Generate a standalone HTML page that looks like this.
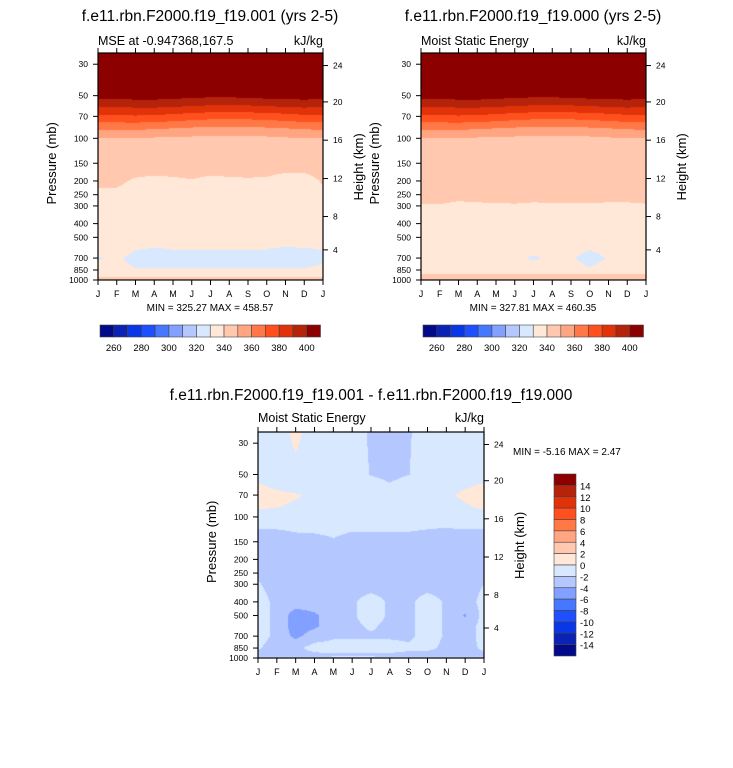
<!DOCTYPE html>
<html><head><meta charset="utf-8">
<style>
body{margin:0;background:#fff;width:733px;height:768px;overflow:hidden;font-family:"Liberation Sans",sans-serif;}
#root{position:relative;width:733px;height:768px;}
canvas{position:absolute;}
svg{position:absolute;left:0;top:0;}
</style></head><body>
<div id="root">
<canvas id="cA"></canvas>
<canvas id="cB"></canvas>
<canvas id="cC"></canvas>
<svg id="ov" width="733" height="768"></svg>
</div>
<script>
const months=["J","F","M","A","M","J","J","A","S","O","N","D","J"];
const pLevels=[25,50,60,70,85,100,150,200,300,400,500,600,700,850,950,1000];
const pTicks=[30,50,70,100,150,200,250,300,400,500,700,850,1000];
const hTicks=["24","20","16","12","8","4"];
const hOffsets=[213.5,177.3,139.2,101,63.2,30];
const levelsAbs=[260,270,280,290,300,310,320,330,340,350,360,370,380,390,400];
const levelsDiff=[-14,-12,-10,-8,-6,-4,-2,0,2,4,6,8,10,12,14];
const barLabelsAbs=["260","280","300","320","340","360","380","400"];
const palette=["#020a8a","#0a23b4","#0a37e6","#1e50ff","#4678ff","#82a0ff","#b4c8ff","#d7e8ff","#ffe8d7","#ffc8af","#ffa582","#ff7846","#ff501e","#e1320a","#b4230a","#8c0000"];
const fieldA=[
[470,470,470,470,470,470,470,470,470,470,470,470,470],
[404,404,405,405,404,403,402,402,403,404,404,405,404],
[390,390,391,391,390,389,388,388,388,389,390,391,390],
[378,378,379,378,377,375,374,374,374,375,376,378,378],
[362,362,362,361,360,359,358,358,358,359,360,361,362],
[350,350,350,349,349,348,347,347,347,348,349,350,350],
[345,345,345,345,345,345,345,345,345,345,345,345,345],
[341.6,341.5,338.9,337.8,338.5,339.5,337.8,338.5,338.9,338.5,335.8,335.8,341],
[336,336,336,336,336,336,336,336,336,336,336,336,336],
[335,335,335,335,335,335,335,335,335,335,335,335,335],
[334,334,334,334,334,334,334,334,334,334,334,334,334],
[333,333,330.3,329.8,330.2,330.2,330.2,330.2,330.3,330.2,329.3,329.8,330.3],
[329.5,330.8,328.5,328.5,328.5,328.5,328.5,328.5,328.5,328.5,328,328.5,329],
[333,331.5,330.3,330.3,330.3,330.3,330.3,330.3,330.3,330.3,330.5,330.3,331],
[339.8,339.8,339.8,339.8,339.8,339.8,339.8,339.8,339.8,339.8,339.8,339.8,339.8],
[342,342,342,342,342,342,342,342,342,342,342,342,342]];
const fieldB=[
[470,470,470,470,470,470,470,470,470,470,470,470,470],
[404,404,405,405,404,403,402,402,403,404,404,405,404],
[390,390,391,391,390,389,388,388,388,389,390,391,390],
[378,378,379,378,377,375,374,374,374,375,376,378,378],
[362,362,362,361,360,359,358,358,358,359,360,361,362],
[350,350,350,349,349,348,347,347,347,348,349,350,350],
[345,345,345,345,345,345,345,345,345,345,345,345,345],
[343,343,343,343,343,343,343,343,343,343,343,343,343],
[339.7,339.8,339.3,339.5,339.6,339.7,339.5,339.6,339.6,339.6,339.5,339.5,339.7],
[336,336,336,336,336,336,336,336,336,336,336,336,336],
[334,334,334,334,334,334,334,334,334,334,334,334,334],
[332,332,332,332,332,332,331.5,332,331.5,330.3,331.5,332,332],
[331,331,331,331,331,331,329.4,331,330.4,328.5,330.3,331,331],
[332,332,332,332,332,332,332,332,331.5,330.5,331.5,332,332],
[345,345,345,345,345,345,345,345,345,345,345,345,345],
[346,346,346,346,346,346,346,346,346,346,346,346,346]];
const fieldC=[
[-1,-1,0.5,-1,-1,-1,-2.3,-3,-2.2,-1,-1,-1,-1],
[-1,-1,-0.5,-1,-1,-1,-2.1,-2.6,-2.05,-1,-1,-1,-1],
[0.3,-0.5,-1,-1,-1,-1,-1,-1.8,-1,-1,-1,-0.3,0.3],
[1,0.6,0.2,-0.3,-1,-1,-1,-1,-1,-1,-0.4,0.5,1],
[0.5,0.1,-0.3,-1,-1,-1,-1,-1,-1,-1,-1,-0.3,0.5],
[-1.5,-1.5,-1.5,-1.6,-1.7,-1.7,-1.7,-1.7,-1.7,-1.7,-1.6,-1.5,-1.5],
[-2.5,-2.5,-2.3,-2.2,-2.05,-2.2,-2.2,-2.2,-2.2,-2.3,-2.5,-2.5,-2.5],
[-3,-3,-3,-3,-3,-3,-3,-3,-3,-3,-3,-3,-3],
[-1.8,-3,-3,-3,-3,-3,-3,-3,-3,-3,-3,-3,-2],
[-1,-2.6,-3,-3,-3,-2.3,-1,-2.3,-2.5,-1,-2.3,-3,-1.3],
[-1,-2.6,-5,-4.3,-3,-2.3,-1,-2.3,-2.5,-1,-2.3,-4.2,-1.3],
[-1,-2.6,-5,-4.3,-3,-2.5,-1.7,-2.6,-2.5,-1,-2.3,-3,-1.2],
[-1,-2.6,-4.5,-3,-2.3,-2.3,-2.3,-2.3,-2.4,-1.2,-2.2,-3,-1.2],
[-1.8,-3,-2.5,-1.2,-1.2,-1.2,-1.2,-1.2,-1.6,-1.5,-2.5,-3,-1.5],
[-2.5,-3,-3,-2.5,-2.2,-2.2,-2.2,-2.3,-2.5,-2.7,-3,-3,-2.5],
[-1.8,-1.8,-1.8,-1.8,-1.8,-1.8,-1.8,-1.8,-1.8,-1.8,-1.8,-1.8,-1.8]];

const NS="http://www.w3.org/2000/svg";
const ov=document.getElementById('ov');
function sv(tag,attrs,name){const e=document.createElementNS(NS,tag);for(const k in attrs)e.setAttribute(k,attrs[k]);


ov.appendChild(e);return e;}
function txt(s,x,y,size,anchor,name,rot){const e=sv('text',{x:x,y:y,'font-size':size,'text-anchor':anchor||'start','font-family':'Liberation Sans, sans-serif',fill:'#000'},name);
if(rot)e.setAttribute('transform','rotate(-90 '+x+' '+y+')');e.textContent=s;return e;}
function hexRgb(h){return [parseInt(h.substr(1,2),16),parseInt(h.substr(3,2),16),parseInt(h.substr(5,2),16)];}
const pal=palette.map(hexRgb);
function lvlIdx(v,lv){let i=0;while(i<lv.length&&v>=lv[i])i++;return i;}
const lnP=pLevels.map(p=>Math.log(p));
function sample(f,mx,p){
  const lp=Math.log(p);let r=0;while(r<lnP.length-2&&lp>lnP[r+1])r++;
  let fr=(lp-lnP[r])/(lnP[r+1]-lnP[r]);fr=Math.max(0,Math.min(1,fr));
  let c=Math.floor(mx);if(c>11)c=11;if(c<0)c=0;const fc=Math.max(0,Math.min(1,mx-c));
  const a=f[r][c]*(1-fc)+f[r][c+1]*fc,b=f[r+1][c]*(1-fc)+f[r+1][c+1]*fc;return a*(1-fr)+b*fr;}
function panel(cid,f,lv,L,T,W,H){
  const cv=document.getElementById(cid);cv.width=W;cv.height=H;cv.style.left=L+'px';cv.style.top=T+'px';
  const ctx=cv.getContext('2d');const im=ctx.createImageData(W,H);
  const span=Math.log(1000/25);
  for(let y=0;y<H;y++){const p=1000*Math.exp(-(H-y-0.5)/H*span);
    for(let x=0;x<W;x++){const mx=(x+0.5)/W*12;const v=sample(f,mx,p);const col=pal[lvlIdx(v,lv)];const k=(y*W+x)*4;
      im.data[k]=col[0];im.data[k+1]=col[1];im.data[k+2]=col[2];im.data[k+3]=255;}}
  ctx.putImageData(im,0,0);
  const B=T+H;
  sv('rect',{x:L,y:T,width:W,height:H,fill:'none',stroke:'#000','stroke-width':1.2},'plot-frame');
  months.forEach((m,i)=>{const x=L+i*W/12;
    sv('line',{x1:x,y1:B,x2:x,y2:B+5,stroke:'#000','stroke-width':1},'month-tick');
    sv('line',{x1:x,y1:T,x2:x,y2:T-5,stroke:'#000','stroke-width':1},'month-tick-top');
    txt(m,x,B+17,9,'middle','month-label');});
  const yP=p=>B-Math.log(1000/p)*(H/span);
  pTicks.forEach(p=>{const y=yP(p);sv('line',{x1:L-5,y1:y,x2:L,y2:y,stroke:'#000','stroke-width':1},'pressure-tick');
    txt(String(p),L-10,y+3,8.5,'end','pressure-label');});
  hTicks.forEach((h,i)=>{const y=B-hOffsets[i]*(H/226);sv('line',{x1:L+W,y1:y,x2:L+W+5,y2:y,stroke:'#000','stroke-width':1},'height-tick');
    txt(h,L+W+10,y+3,8.5,'start','height-label');});
  txt('Pressure (mb)',L-42,T+H/2+38,13,'start','pressure-axis-title',true);
  txt('Height (km)',L+W+40,T+H/2+34,13,'start','height-axis-title',true);
}
panel('cA',fieldA,levelsAbs,98,53,225,227);
panel('cB',fieldB,levelsAbs,421,53,225,227);
panel('cC',fieldC,levelsDiff,258,432,226,226);
txt('f.e11.rbn.F2000.f19_f19.001 (yrs 2-5)',210,21,15.5,'middle','title-left');
txt('f.e11.rbn.F2000.f19_f19.000 (yrs 2-5)',533,21,15.5,'middle','title-right');
txt('MSE at -0.947368,167.5',98,45,12.5,'start','subtitle-left');
txt('kJ/kg',323,45,12.5,'end','units-left');
txt('Moist Static Energy',421,45,12.5,'start','subtitle-right');
txt('kJ/kg',646,45,12.5,'end','units-right');
txt('MIN = 325.27 MAX = 458.57',210,311,10,'middle','minmax-left');
txt('MIN = 327.81 MAX = 460.35',533,311,10,'middle','minmax-right');
txt('f.e11.rbn.F2000.f19_f19.001 - f.e11.rbn.F2000.f19_f19.000',371,400,15.5,'middle','title-diff');
txt('Moist Static Energy',258,422,12.5,'start','subtitle-diff');
txt('kJ/kg',484,422,12.5,'end','units-diff');
txt('MIN =  -5.16 MAX =   2.47',513,455,10,'start','minmax-diff');
function hbar(x0){const w=220.5/16;palette.forEach((c,i)=>{sv('rect',{x:x0+i*w,y:325,width:w,height:12,fill:c,stroke:'#444','stroke-width':0.6},'colorbar-box');});
  barLabelsAbs.forEach((s,i)=>{txt(s,x0+w*(1+2*i),351,9.5,'middle','colorbar-label');});}
hbar(100);hbar(423);
(function(){const h=182/16;for(let i=0;i<16;i++){sv('rect',{x:554,y:474+i*h,width:22,height:h,fill:palette[15-i],stroke:'#444','stroke-width':0.6},'diff-colorbar-box');}
  for(let i=0;i<levelsDiff.length;i++){const v=levelsDiff[levelsDiff.length-1-i];txt(String(v),580,474+(i+1)*h+4,9.5,'start','diff-colorbar-label');}})();
</script>
</body></html>
